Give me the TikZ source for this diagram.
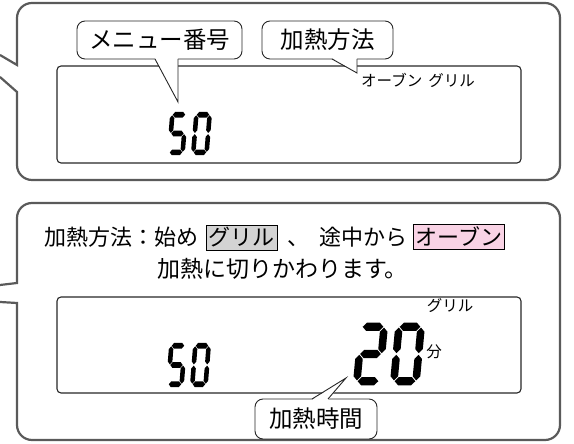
\documentclass[tikz,border=0pt]{standalone}
\usepackage{fontspec}
\setmainfont{Noto Sans CJK JP}
\definecolor{framegray}{HTML}{5A5A5A}
\definecolor{boxgray}{HTML}{D3D3D3}
\definecolor{boxpink}{HTML}{F9D3E5}
\setlength{\fboxsep}{2pt}
\setlength{\fboxrule}{0.8pt}

% seven-segment helpers (unit digit, height 1)
\newcommand{\lcdh}[3]{\fill (#1,#3) -- ({#1+0.075},{#3+0.075}) -- ({#2-0.075},{#3+0.075}) -- (#2,#3) -- ({#2-0.075},{#3-0.075}) -- ({#1+0.075},{#3-0.075}) -- cycle;}
\newcommand{\lcdv}[3]{\fill (#1,#2) -- ({#1+0.075},{#2+0.075}) -- ({#1+0.075},{#3-0.075}) -- (#1,#3) -- ({#1-0.075},{#3-0.075}) -- ({#1-0.075},{#2+0.075}) -- cycle;}
\newcommand{\lcdsega}{\lcdh{0.015}{0.425}{1}}
\newcommand{\lcdsegb}{\lcdv{0.44}{0.515}{0.985}}
\newcommand{\lcdsegc}{\lcdv{0.44}{0.015}{0.485}}
\newcommand{\lcdsegd}{\lcdh{0.015}{0.425}{0}}
\newcommand{\lcdsege}{\lcdv{0}{0.015}{0.485}}
\newcommand{\lcdsegf}{\lcdv{0}{0.515}{0.985}}
\newcommand{\lcdsegg}{\lcdh{0.015}{0.425}{0.5}}
\newcommand{\lcddigit}[4]{%
  \begin{scope}[shift={#1}, xscale=#2, yscale=#3, xslant=0.1]
    \foreach \s in {#4} {\csname lcdseg\s\endcsname}
  \end{scope}}

\begin{document}
\begin{tikzpicture}[
    x=1pt, y=1pt,
    panel/.style={draw=framegray, line width=2.2pt},
    lcd/.style={rectangle, draw=black!85, line width=1.1pt, rounded corners=4pt, minimum width=464pt, inner sep=0pt},
    bubble/.style={rectangle, draw=black!85, line width=0.9pt, fill=white, rounded corners=8pt, minimum height=38pt, inner xsep=0pt, outer sep=0pt, font=\fontsize{23.5}{26}\selectfont},
    tail/.style={draw=black!85, line width=0.9pt},
    textline/.style={font=\fontsize{23}{26}\selectfont, inner sep=0pt},
    small/.style={font=\fontsize{15.5}{17}\selectfont, inner sep=0pt}
]
    \useasboundingbox (0,0) rectangle (574,444);

    % Panels
    \draw[panel] (0,389) -- (17,379) -- (17,426) arc[start angle=180, end angle=90, radius=15]
        -- (545,441) arc[start angle=90, end angle=0, radius=15]
        -- (560,279) arc[start angle=0, end angle=-90, radius=15]
        -- (32,264) arc[start angle=270, end angle=180, radius=15] -- (17,352) -- (0,367);
    \draw[panel] (0,159) -- (17,161) -- (17,226) arc[start angle=180, end angle=90, radius=15]
        -- (545,241) arc[start angle=90, end angle=0, radius=15]
        -- (560,19) arc[start angle=0, end angle=-90, radius=15]
        -- (32,4) arc[start angle=270, end angle=180, radius=15] -- (17,141) -- (0,142);

    % Displays
    \node[lcd, minimum height=97pt] (lcdtop) at (289,329.5) {};
    \node[lcd, minimum height=96pt] (lcdbottom) at (289,99) {};

    % Callouts
    \node[bubble, minimum width=165pt] (menu) at (159.5,404) {メニュー番号};
    \node[bubble, minimum width=131pt] (method) at (327.5,404) {加熱方法};
    \node[bubble, minimum width=122pt, minimum height=40pt] (time) at (316,25) {加熱時間};

    \coordinate (menutip) at (178,342);
    \coordinate (methodtip) at (357,371);
    \coordinate (timetip) at (346,66);
    \fill[white] ([xshift=-4.5pt, yshift=1pt]menu.south) -- (menutip) -- ([xshift=18.5pt, yshift=1pt]menu.south) -- cycle;
    \draw[tail] ([xshift=-4.5pt]menu.south) -- (menutip) -- ([xshift=18.5pt]menu.south);
    \fill[white] ([xshift=4.5pt, yshift=1pt]method.south) -- (methodtip) -- ([xshift=29.5pt, yshift=1pt]method.south) -- cycle;
    \draw[tail] ([xshift=4.5pt]method.south) -- (methodtip) -- ([xshift=29.5pt]method.south);
    \fill[white] ([xshift=-4pt, yshift=-1pt]time.north) -- (timetip) -- ([xshift=12pt, yshift=-1pt]time.north) -- cycle;
    \draw[tail] ([xshift=-4pt]time.north) -- (timetip) -- ([xshift=12pt]time.north);

    % Digits
    \lcddigit{(169.3,291.6)}{30.3}{37.7}{a,f,g,c,d}
    \lcddigit{(193.3,291.6)}{30.3}{37.7}{a,b,c,d,e,f}
    \lcddigit{(168.3,59.7)}{30.3}{38.6}{a,f,g,c,d}
    \lcddigit{(192.3,59.7)}{30.3}{38.6}{a,b,c,d,e,f}
    \lcddigit{(356.9,62.8)}{50.4}{54.4}{a,b,g,e,d}
    \lcddigit{(393.9,62.8)}{50.4}{54.4}{a,b,c,d,e,f}

    % Texts
    \node[small, anchor=west] (modes) at (361,364) {オーブン\hspace{0.4em}グリル};
    \node[small] (grill) at (450,138) {グリル};
    \node[small] (minute) at (434,92.5) {分};
    \node[textline, font=\fontsize{22}{26}\selectfont, anchor=base west] (method1) at (44,198) {加熱方法：始め\hspace{8pt}\fcolorbox{black}{boxgray}{グリル}\hspace{10pt}、\hspace{10pt}途中から\hspace{5pt}\fcolorbox{black}{boxpink}{オーブン}};
    \node[textline, anchor=base west] (method2) at (157,166) {加熱に切りかわります。};
\end{tikzpicture}
\end{document}
